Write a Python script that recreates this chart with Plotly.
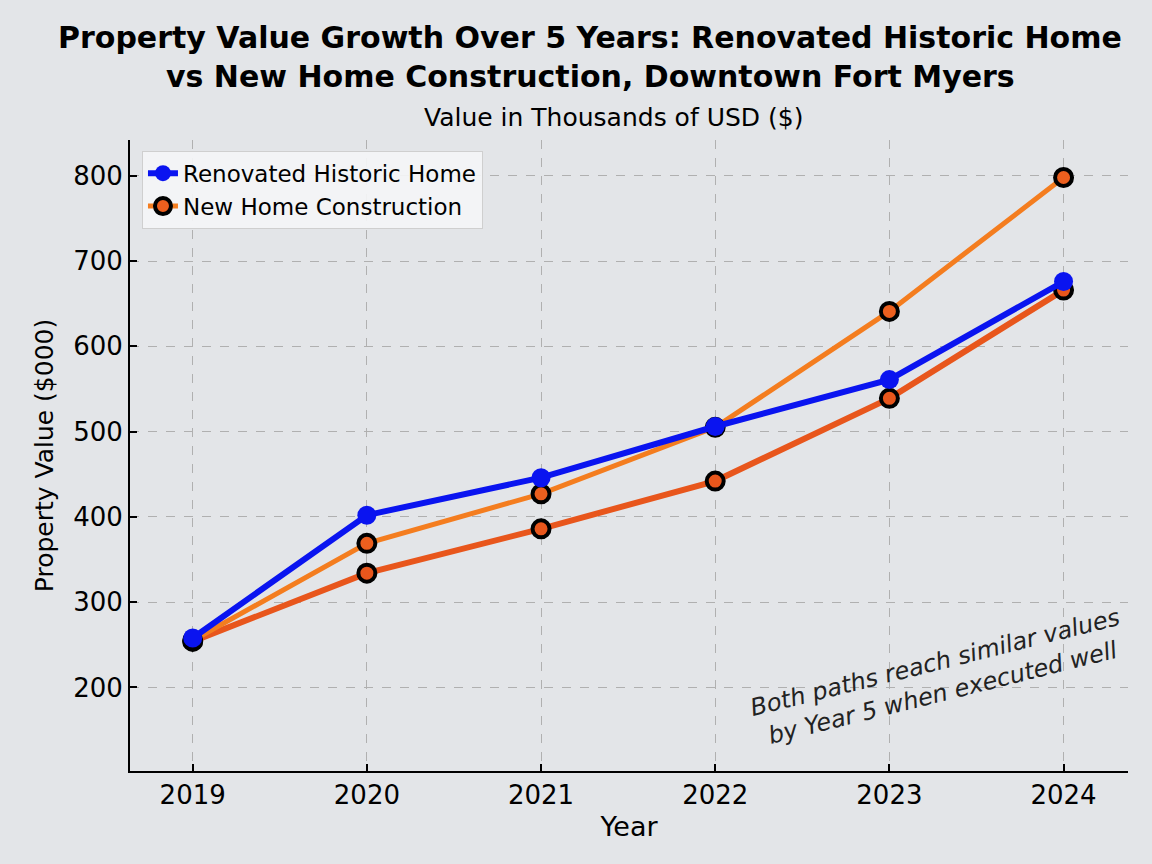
import plotly.graph_objects as go

# values, in thousands of USD
years = [2019, 2020, 2021, 2022, 2023, 2024]
renovated = [258, 402, 446, 506, 561, 676]
new_build = [255, 369, 427, 505, 641, 798]
new_build_low = [254, 334, 386, 442, 539, 666]

title_lines = [
    "Property Value Growth Over 5 Years: Renovated Historic Home",
    "vs New Home Construction, Downtown Fort Myers",
]
subtitle = "Value in Thousands of USD ($)"
note = "Both paths reach similar values<br>by Year 5 when executed well"

bg = "#e3e5e8"
font_main = "DejaVu Sans"

fig = go.Figure()

fig.add_trace(go.Scatter(
    x=years, y=new_build_low, mode="lines+markers",
    line=dict(color="#e8561c", width=6),
    marker=dict(size=17, color="#e8561c", line=dict(color="black", width=4)),
    showlegend=False,
))

fig.add_trace(go.Scatter(
    x=years, y=new_build, mode="lines+markers", name="New Home Construction",
    line=dict(color="#f47d1f", width=5),
    marker=dict(size=17, color="#ec5f1e", line=dict(color="black", width=4)),
))

fig.add_trace(go.Scatter(
    x=years, y=renovated, mode="lines+markers", name="Renovated Historic Home",
    line=dict(color="#0a14f0", width=6),
    marker=dict(size=19, color="#0a14f0"),
))

# title block as annotations so the three lines sit where the reference has them
fig.add_annotation(x=0.461, y=1.163, xref="paper", yref="paper", showarrow=False,
                   xanchor="center", yanchor="middle", text="<b>" + title_lines[0] + "</b>",
                   font=dict(family=font_main, size=30, color="black"))
fig.add_annotation(x=0.461, y=1.100, xref="paper", yref="paper", showarrow=False,
                   xanchor="center", yanchor="middle", text="<b>" + title_lines[1] + "</b>",
                   font=dict(family=font_main, size=30, color="black"))
fig.add_annotation(x=0.484, y=1.036, xref="paper", yref="paper", showarrow=False,
                   xanchor="center", yanchor="middle", text=subtitle,
                   font=dict(family=font_main, size=25, color="black"))

fig.add_annotation(
    x=0.811, y=0.148, xref="paper", yref="paper",
    xanchor="center", yanchor="middle",
    text=note, showarrow=False, textangle=-14, align="center",
    font=dict(family=font_main, size=24, color="#222222", style="italic"),
)

fig.update_layout(
    width=1152, height=864,
    paper_bgcolor=bg, plot_bgcolor=bg,
    margin=dict(l=130, r=24, t=140, b=93),
    font=dict(family=font_main, color="black"),
    legend=dict(
        x=0.012, y=0.983, xanchor="left", yanchor="top",
        traceorder="reversed",
        bgcolor="rgba(244,245,246,0.92)", bordercolor="#cfcfcf", borderwidth=1,
        font=dict(size=23),
    ),
    xaxis=dict(
        title=dict(text="Year", font=dict(size=27), standoff=8),
        range=[2018.64, 2024.37], tickvals=years, ticktext=[str(y) for y in years],
        tickfont=dict(size=26), showline=True, linecolor="black", linewidth=2,
        ticks="inside", ticklen=7, tickwidth=2, tickcolor="black",
        showgrid=True, gridcolor="#b0b0b0", griddash="dash", gridwidth=1,
        zeroline=False,
    ),
    yaxis=dict(
        title=dict(text="Property Value ($000)", font=dict(size=25), standoff=12),
        range=[102, 842], tickvals=[200, 300, 400, 500, 600, 700, 800],
        tickfont=dict(size=26), showline=True, linecolor="black", linewidth=2,
        ticks="inside", ticklen=7, tickwidth=2, tickcolor="black",
        showgrid=True, gridcolor="#b0b0b0", griddash="dash", gridwidth=1,
        zeroline=False,
    ),
)

fig.write_html("out.html", config={"displayModeBar": False},
               post_script="document.body.style.margin='0';")
